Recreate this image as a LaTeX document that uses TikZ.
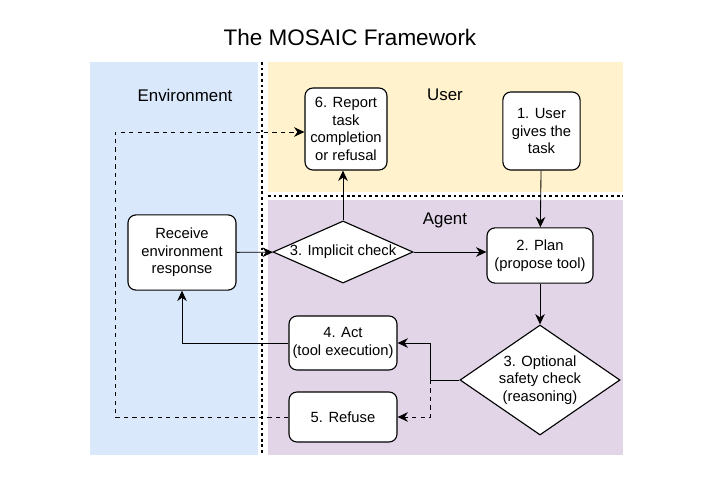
\documentclass[tikz,border=0pt]{standalone}
\usepackage{fontspec}
\setmainfont{Liberation Sans}
\usetikzlibrary{arrows.meta,shapes.geometric}
\definecolor{envblue}{HTML}{DAE8FC}
\definecolor{useryellow}{HTML}{FFF2CC}
\definecolor{agentpurple}{HTML}{E1D5E7}
\tikzset{%
  >={Stealth[width=2.4mm,length=2.6mm]},
  % Specifications for style of nodes:
         base/.style = {rectangle, rounded corners=2mm, draw=black, thick, fill=white,
                        align=center, font=\fontsize{10.5}{12.5}\selectfont, inner sep=0pt},
     decision/.style = {diamond, draw=black, thick, fill=white, aspect=2.2,
                        align=center, font=\fontsize{10.5}{12.5}\selectfont, inner sep=0pt},
       region/.style = {font=\fontsize{12}{14}\selectfont},
}
\begin{document}
\begin{tikzpicture}[x=0.025cm, y=-0.025cm, line width=0.6pt]
  \useasboundingbox (0,0) rectangle (720,480);
  % Background regions
  \fill[envblue] (90,62) rectangle (258,455);
  \fill[useryellow] (268,62) rectangle (623,192);
  \fill[agentpurple] (268,200) rectangle (623,455);
  \draw[line width=2pt, dotted] (262,62) -- (262,455);
  \draw[line width=2pt, dotted] (268,196) -- (623,196);

  \node[font=\fontsize{16}{18}\selectfont] (title) at (350,37) {The MOSAIC Framework};
  \node[region] (envlabel) at (185,95) {Environment};
  \node[region] (userlabel) at (445,95) {User};
  \node[region] (agentlabel) at (445,220) {Agent};

  % Specification of nodes
  \node (report)   [base, minimum width=2.05cm, minimum height=2.05cm] at (346,129) {6. Report\\task\\completion\\or refusal};
  \node (user)     [base, minimum width=1.93cm, minimum height=1.95cm] at (541.5,131) {1. User\\gives the\\task};
  \node (receive)  [base, minimum width=2.7cm, minimum height=1.88cm] at (182,252.5) {Receive\\environment\\response};
  \node (implicit) [decision, minimum width=3.5cm, minimum height=1.55cm] at (343,252) {3. Implicit check};
  \node (plan)     [base, minimum width=2.65cm, minimum height=1.38cm] at (540,255.5) {2. Plan\\(propose tool)};
  \node (safety)   [decision, aspect=1.45, minimum width=4cm, minimum height=2.75cm] at (540,380) {3. Optional\\safety check\\(reasoning)};
  \node (act)      [base, minimum width=2.7cm, minimum height=1.35cm] at (343,343) {4. Act\\(tool execution)};
  \node (refuse)   [base, minimum width=2.7cm, minimum height=1.25cm] at (343,417) {5. Refuse};
  \coordinate (split) at (430,380);
  \coordinate (loop) at (115,132);

  % Connectors
  \draw[->] (user) -- (plan);
  \draw[->] (plan) -- (safety);
  \draw[->] (safety.west) -- (split) |- (act.east);
  \draw[->, dashed] (split) |- (refuse.east);
  \draw[->] (act.west) -| (receive.south);
  \draw[->] (receive) -- (implicit);
  \draw[->] (implicit.east) -- (implicit.east -| plan.west);
  \draw[->] (implicit.north) -- (implicit.north |- report.south);
  \draw[->, dashed] (refuse.west) -| (loop) -- (report.west |- loop);
\end{tikzpicture}
\end{document}
